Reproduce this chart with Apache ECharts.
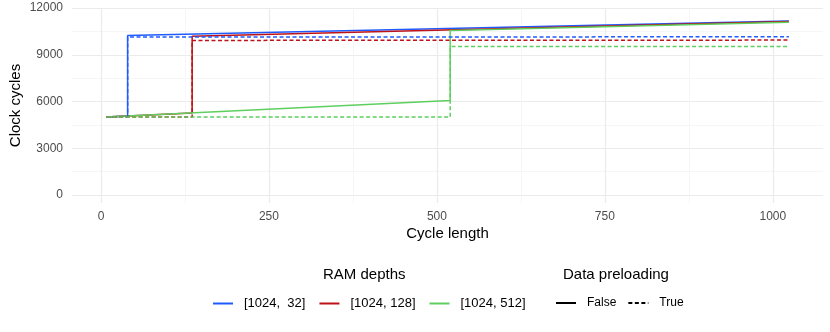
<!DOCTYPE html>
<html>
<head>
<meta charset="utf-8">
<script src="https://cdn.jsdelivr.net/npm/echarts@6/dist/echarts.min.js"></script>
<style>
  html, body { margin: 0; padding: 0; background: #fff; }
  #Chart { width: 830px; height: 332px; }
</style>
</head>
<body>
<div id="Chart"></div>
<script>
// data
var ramDepths = ['[1024,  32]', '[1024, 128]', '[1024, 512]'];
var preloading = ['False', 'True'];
var xTicks = [0, 250, 500, 750, 1000];
var yTicks = [0, 3000, 6000, 9000, 12000];

// preloading False (solid)
var x32False = [8, 40, 40, 1024];
var y32False = [5000, 5070, 10230, 11160];
var x128False = [8, 136, 136, 1024];
var y128False = [5000, 5260, 10190, 11140];
var x512False = [8, 520, 520, 1024];
var y512False = [5000, 6060, 10560, 11080];

// preloading True (dashed)
var x32True = [8, 40, 40, 1024];
var y32True = [5000, 5000, 10140, 10150];
var x128True = [8, 136, 136, 1024];
var y128True = [5000, 5000, 9920, 9940];
var x512True = [8, 520, 520, 1024];
var y512True = [5000, 5000, 9530, 9530];

var colors = ['#1F5BFF', '#BE1118', '#5ECF5E'];
var font = '"Liberation Sans", Arial, sans-serif';
var dash = [4, 2.5];

function zip(xs, ys) {
    var out = [];
    for (var i = 0; i < xs.length; i++) {
        out.push([xs[i], ys[i]]);
    }
    return out;
}

function line(name, xs, ys, color, type) {
    return {
        name: name,
        type: 'line',
        xAxisIndex: 0,
        yAxisIndex: 0,
        data: zip(xs, ys),
        symbol: 'none',
        showSymbol: false,
        animation: false,
        color: color,
        lineStyle: { color: color, width: 1.5, type: type }
    };
}

function plain(v) {
    return String(v);
}

var gridLine = { show: true, lineStyle: { color: '#EBEBEB', width: 1.2 } };
var minorLine = { show: true, lineStyle: { color: '#F2F2F2', width: 0.7 } };

var myChart = echarts.init(document.getElementById('Chart'));
var option = {
    backgroundColor: '#fff',
    animation: false,
    grid: [
        // panel: data + horizontal grid lines
        { left: 72, top: 8, width: 751, height: 187 },
        // vertical grid lines and x labels
        { left: 100.8, top: 8, width: 672, height: 195 }
    ],
    xAxis: [
        {
            gridIndex: 0,
            type: 'value',
            min: -42.8,
            max: 1074.8,
            axisLine: { show: false },
            axisTick: { show: false },
            axisLabel: { show: false },
            splitLine: { show: false },
            name: 'Cycle length',
            nameLocation: 'middle',
            nameGap: 31,
            nameTextStyle: { color: '#000', fontSize: 15, fontFamily: font }
        },
        {
            gridIndex: 1,
            type: 'value',
            min: xTicks[0],
            max: xTicks[xTicks.length - 1],
            interval: 250,
            axisLine: { show: false },
            axisTick: { show: false },
            axisLabel: { color: '#4D4D4D', fontSize: 12, fontFamily: font, margin: 8, formatter: plain },
            splitLine: gridLine,
            minorTick: { show: false, splitNumber: 2 },
            minorSplitLine: minorLine
        }
    ],
    yAxis: [
        {
            gridIndex: 0,
            type: 'value',
            min: yTicks[0],
            max: yTicks[yTicks.length - 1],
            interval: 3000,
            axisLine: { show: false },
            axisTick: { show: false },
            axisLabel: { color: '#4D4D4D', fontSize: 12, fontFamily: font, margin: 9, formatter: plain },
            splitLine: gridLine,
            minorTick: { show: false, splitNumber: 2 },
            minorSplitLine: minorLine
        },
        {
            gridIndex: 1,
            type: 'value',
            min: 0,
            max: 1,
            axisLine: { show: false },
            axisTick: { show: false },
            axisLabel: { show: false },
            splitLine: { show: false },
            name: 'Clock cycles',
            nameLocation: 'middle',
            nameGap: 78,
            nameTextStyle: { color: '#000', fontSize: 15, fontFamily: font }
        }
    ],
    legend: [
        {
            left: 207,
            top: 292,
            itemWidth: 20,
            itemHeight: 14,
            itemGap: 13,
            selectedMode: false,
            itemStyle: { opacity: 0 },
            textStyle: { color: '#000', fontSize: 13, fontFamily: font, padding: [0, 0, 0, 6] },
            data: ramDepths.map(function (n) {
                return { name: n, lineStyle: { type: 'solid' } };
            })
        },
        {
            left: 550,
            top: 292,
            itemWidth: 20,
            itemHeight: 14,
            itemGap: 11,
            selectedMode: false,
            itemStyle: { opacity: 0 },
            textStyle: { color: '#000', fontSize: 12, fontFamily: font, padding: [0, 0, 0, 6] },
            data: preloading
        }
    ],
    graphic: [
        {
            type: 'text', left: 323, top: 267,
            style: { text: 'RAM depths', fill: '#000', font: '15px ' + font }
        },
        {
            type: 'text', left: 563, top: 267,
            style: { text: 'Data preloading', fill: '#000', font: '15px ' + font }
        }
    ],
    series: [
        line(ramDepths[0], x32False, y32False, colors[0], 'solid'),
        line(ramDepths[1], x128False, y128False, colors[1], 'solid'),
        line(ramDepths[2], x512False, y512False, colors[2], 'solid'),
        line(ramDepths[0], x32True, y32True, colors[0], dash),
        line(ramDepths[1], x128True, y128True, colors[1], dash),
        line(ramDepths[2], x512True, y512True, colors[2], dash),
        line(preloading[0], [], [], '#000', 'solid'),
        line(preloading[1], [], [], '#000', dash)
    ]
};
myChart.setOption(option);
window.addEventListener('resize', function () {
    myChart.resize();
});
</script>
</body>
</html>
